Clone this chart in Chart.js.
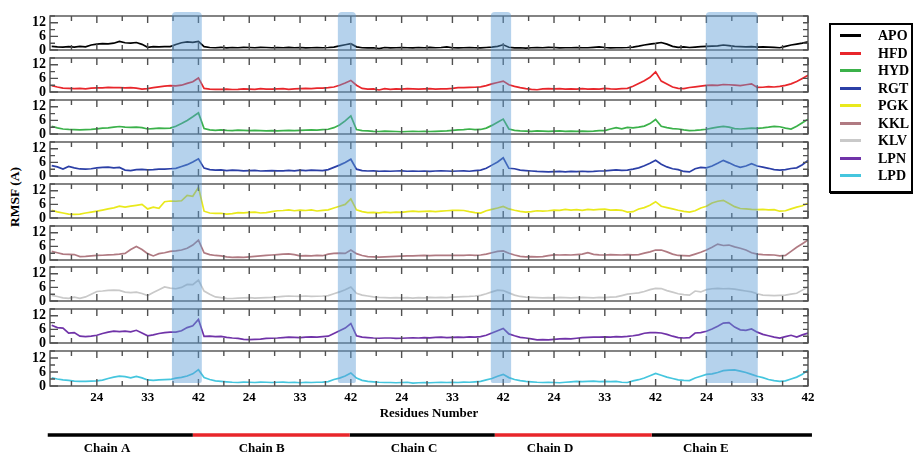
<!DOCTYPE html>
<html>
<head>
<meta charset="utf-8">
<script src="https://cdn.jsdelivr.net/npm/chart.js@4.4.1/dist/chart.umd.min.js"></script>
<style>
  body { margin: 0; background: #fff; }
  #wrap { position: relative; width: 913px; height: 455px; overflow: hidden; font-family: 'Liberation Serif', 'DejaVu Serif', serif; }
  #wrap canvas { position: absolute; left: 0; }
  #overlay { pointer-events: none; z-index: 5; }
  #ylabel { position: absolute; left: 15px; top: 197px; transform: translate(-50%, -50%) rotate(-90deg); font-weight: bold; font-size: 13.5px; white-space: nowrap; }
  #legend { position: absolute; left: 829px; top: 23px; width: 80px; height: 166px; border: 2px solid #000; box-shadow: 1px 1px 0 #000; background: #fff; z-index: 6; }
  #legend .item { position: absolute; left: 0; height: 17px; width: 80px; }
  #legend .swatch { position: absolute; left: 9px; top: 7px; width: 21px; height: 3px; }
  #legend .name { position: absolute; left: 47px; top: 0; font-weight: bold; font-size: 14px; line-height: 17px; }
</style>
</head>
<body>
<div id="wrap">
  <div id="ylabel">RMSF (A)</div>
  <div id="legend"></div>
</div>
<script>
// residues 16..42 in each of the five chains, plotted end to end
const chains = ['Chain A', 'Chain B', 'Chain C', 'Chain D', 'Chain E'];
const firstResidue = 16;
const chainLength = 27;
const xTickResidues = [19.5, 24, 28.5, 33, 37.5, 42];
const xLabelResidues = [24, 33, 42];
const yTicks = [0, 3, 6, 9, 12, 15];
const yLabels = [0, 6, 12];

const seriesNames = ['APO', 'HFD', 'HYD', 'RGT', 'PGK', 'KKL', 'KLV', 'LPN', 'LPD'];
const seriesColors = ['#000000', '#e8262b', '#3bb14a', '#2b3fa6', '#e9e91c', '#b07a82', '#c9c9c9', '#7033a8', '#45c6de'];

// RMSF values, one line per chain (A..E)
const APO = [
  1.6,1.4,1.3,1.5,1.3,1.6,1.4,2.2,2.6,2.8,2.7,3.0,3.8,3.2,3.0,3.3,2.5,1.2,1.5,1.4,1.5,1.5,2.4,3.2,3.6,3.4,3.8,
  1.5,1.1,1.0,1.2,0.9,1.1,1.0,1.2,1.1,1.0,1.2,1.1,1.0,1.1,1.0,1.2,1.0,1.1,0.9,1.0,1.1,1.0,1.1,1.3,1.8,2.3,2.8,
  1.4,1.0,0.9,1.0,0.6,1.1,0.9,1.0,1.1,1.0,0.9,1.1,1.0,1.2,1.0,1.1,1.4,1.0,0.9,1.0,1.1,1.0,0.9,1.1,1.3,1.6,2.3,
  1.2,0.9,1.0,0.8,1.0,1.1,1.0,1.2,1.1,0.9,1.0,1.0,1.1,1.0,1.0,1.2,1.4,1.1,0.9,1.0,1.0,1.1,1.3,1.7,2.2,2.6,2.9,
  3.3,2.6,1.6,1.2,1.4,1.1,1.3,1.5,1.6,1.7,1.8,2.2,1.9,1.6,1.5,1.4,1.5,1.3,1.4,1.3,1.2,1.0,1.6,2.2,2.6,3.0,3.6
];
const HFD = [
  2.8,2.2,1.7,1.6,1.5,1.6,1.4,1.7,1.8,1.8,2.0,1.9,1.9,1.8,1.9,1.7,1.3,1.5,1.9,2.3,2.6,2.8,2.7,3.0,3.8,4.5,6.2,
  1.6,1.3,1.2,1.2,1.3,1.1,1.2,1.4,1.3,1.2,1.5,1.3,1.3,1.4,1.5,1.2,1.4,1.5,1.6,1.5,1.7,1.7,1.9,2.2,3.0,4.0,5.1,
  3.0,1.6,1.3,1.4,0.9,1.5,1.2,1.4,1.3,1.5,1.4,1.3,1.4,1.5,1.3,1.4,1.4,1.6,1.9,1.9,2.0,2.1,2.3,2.8,3.6,4.2,4.8,
  3.2,2.5,1.9,1.5,1.2,1.0,1.4,1.5,1.4,1.5,1.3,1.4,1.3,1.5,1.3,1.4,1.3,1.6,1.4,1.3,1.5,1.6,2.5,3.8,5.0,6.5,8.9,
  4.8,3.5,2.2,1.6,1.5,2.0,2.3,2.6,2.9,3.0,2.9,3.3,3.2,3.0,2.8,3.2,3.6,2.0,2.1,2.4,2.2,2.5,2.9,3.6,4.6,6.0,7.4
];
const HYD = [
  3.4,2.7,2.2,2.0,1.9,1.8,1.9,2.0,2.3,2.6,2.7,3.0,3.3,3.0,2.9,3.0,2.8,2.2,2.4,2.6,2.5,2.6,3.4,4.6,6.0,7.6,9.3,
  2.4,1.8,1.6,1.8,1.6,1.5,1.7,1.6,1.5,1.6,1.5,1.4,1.5,1.4,1.5,1.6,1.5,1.6,1.7,1.8,1.7,1.9,2.1,2.8,4.0,5.8,8.0,
  2.0,1.5,1.4,1.2,1.1,1.3,1.2,1.1,1.0,1.1,1.2,1.1,1.2,1.1,1.2,1.3,1.4,1.6,1.8,1.9,2.2,1.9,2.0,2.6,3.8,5.2,6.6,
  2.2,1.6,1.4,1.3,1.2,1.4,1.3,1.2,1.3,1.4,1.2,1.3,1.2,1.3,1.2,1.3,1.5,1.5,2.2,2.8,2.3,2.9,2.7,3.0,3.5,4.6,6.4,
  3.4,2.8,2.4,2.2,1.8,1.5,1.6,1.8,2.1,2.6,3.0,3.4,3.0,2.4,2.2,2.4,2.6,2.5,2.7,3.0,3.4,3.2,2.6,2.2,3.4,5.0,6.5
];
const RGT = [
  4.6,4.0,3.1,4.2,3.6,3.1,3.0,3.2,3.6,3.8,3.9,3.6,3.8,2.6,2.4,2.8,2.9,2.7,2.8,3.0,3.0,3.2,3.4,4.2,5.0,6.2,7.6,
  3.5,2.8,2.6,2.7,2.4,2.6,2.5,2.3,2.4,2.5,2.2,2.3,2.4,2.3,2.3,2.5,2.3,2.6,2.4,2.6,2.5,2.4,2.8,3.8,4.8,6.0,7.4,
  3.0,2.4,2.2,2.3,2.1,2.2,2.1,2.2,2.3,2.1,2.2,2.1,2.2,2.0,2.2,2.3,2.2,2.1,2.2,2.3,2.1,2.4,2.6,3.4,4.8,6.2,8.0,
  3.4,3.2,2.6,2.4,2.2,2.0,1.9,1.8,1.9,2.0,1.8,2.0,1.9,2.1,1.9,2.0,2.2,2.3,2.5,2.7,2.5,2.6,3.0,3.6,4.5,5.6,6.9,
  5.2,4.0,3.2,2.8,2.0,1.8,3.2,3.8,3.6,4.4,5.6,6.9,5.8,4.6,3.8,4.4,5.4,4.4,3.9,3.4,2.8,2.6,2.8,3.3,3.6,5.0,6.9
];
const PGK = [
  3.4,2.7,2.2,1.7,1.6,1.7,2.2,2.6,3.0,3.5,4.0,4.5,5.2,4.8,5.2,5.6,6.0,4.0,4.8,4.3,7.2,7.5,7.4,7.6,10.0,9.6,13.5,
  3.0,2.2,2.0,2.1,1.7,1.9,2.4,2.3,2.5,2.6,2.2,2.4,2.8,3.2,3.3,3.6,3.2,3.5,3.3,3.6,3.1,3.4,3.6,4.4,5.2,6.0,8.4,
  3.6,2.8,2.4,2.5,2.3,2.6,2.4,2.6,2.5,2.8,3.0,2.8,2.9,3.0,2.8,3.0,3.2,3.4,3.4,3.3,2.8,2.4,2.2,3.2,3.8,4.4,5.1,
  4.0,3.4,2.9,2.6,2.8,3.2,3.0,3.2,3.5,3.4,3.8,3.5,3.7,3.4,3.8,3.6,3.8,3.9,3.5,3.6,3.4,2.6,2.8,4.0,4.6,5.6,7.2,
  5.2,4.6,4.0,3.4,2.9,2.6,3.2,4.4,5.2,6.6,7.4,7.8,6.4,5.0,4.2,4.0,3.8,3.7,3.8,3.6,3.7,3.0,3.2,4.0,4.8,5.4,6.5
];
const KKL = [
  3.8,3.2,2.6,2.5,2.4,1.5,1.6,1.8,2.0,2.1,2.3,2.4,2.6,2.9,4.6,6.0,4.6,2.8,1.8,2.8,3.2,3.8,4.0,4.4,5.2,6.6,8.8,
  3.2,2.4,2.0,1.8,1.4,1.2,1.3,1.2,1.4,1.6,1.8,2.0,2.2,2.4,2.6,2.7,2.4,1.8,1.9,1.8,2.0,1.9,2.6,2.9,3.0,2.9,4.4,
  2.8,2.0,1.5,1.4,1.3,1.4,1.5,1.6,1.7,1.8,1.8,1.9,2.0,1.9,2.0,2.1,2.0,2.0,2.1,2.0,2.2,2.0,2.2,2.6,3.2,3.8,4.0,
  3.0,2.2,1.6,1.4,1.5,1.4,1.5,1.9,2.3,2.2,2.3,2.2,2.4,2.6,3.2,2.5,2.3,2.2,2.4,2.3,2.2,2.4,2.3,2.4,3.0,3.6,4.4,
  4.4,3.6,2.6,2.0,1.9,1.8,2.6,3.4,4.4,5.6,7.0,6.4,6.6,5.8,5.2,4.4,3.2,2.6,2.4,2.3,2.2,1.8,2.0,3.8,5.6,7.2,8.8
];
const KLV = [
  2.5,2.0,1.4,1.2,1.7,1.2,1.8,3.0,4.2,4.4,4.7,4.8,4.7,3.9,3.7,3.9,3.3,2.4,3.8,5.0,6.2,5.7,5.4,6.0,7.3,7.2,9.2,
  4.4,3.0,1.8,1.5,1.2,1.1,1.3,1.4,1.5,1.3,1.4,1.5,1.6,1.8,2.0,2.2,2.1,2.0,2.2,2.0,2.1,2.2,2.4,3.2,4.0,5.0,6.2,
  3.4,2.6,2.2,1.8,1.6,1.5,1.4,1.5,1.4,1.5,1.3,1.5,1.4,1.6,1.5,1.6,1.5,1.7,1.8,1.9,2.0,2.2,2.5,3.2,4.0,4.8,4.6,
  3.6,2.6,2.0,1.7,1.6,1.5,1.4,1.5,1.4,1.6,1.5,1.4,1.5,1.6,1.5,1.4,1.6,1.5,1.7,1.8,2.4,3.0,3.3,3.6,4.2,5.0,5.6,
  5.5,4.6,3.9,3.2,2.8,2.6,4.4,4.0,5.0,5.4,5.6,5.4,5.5,5.2,4.8,4.4,4.0,3.2,2.6,2.5,2.4,2.5,2.6,3.0,3.4,4.8,6.2
];
const LPN = [
  7.8,6.8,6.6,4.4,4.6,3.0,2.8,3.0,3.4,4.2,4.8,5.2,5.0,5.2,4.9,5.6,4.4,3.2,3.6,4.2,4.6,4.8,4.8,5.4,6.8,7.6,10.4,
  2.9,3.0,2.8,2.9,2.5,2.2,2.0,1.6,1.5,1.6,1.7,2.0,2.1,2.2,2.4,2.6,2.5,2.4,2.6,2.7,2.6,2.8,3.0,4.2,5.4,6.6,8.6,
  3.2,2.6,2.4,2.2,2.1,2.2,2.2,2.0,2.1,2.2,2.3,2.2,2.4,2.3,2.5,2.6,2.4,2.5,2.6,2.5,2.7,2.6,2.8,3.4,4.4,5.4,6.4,
  4.0,3.2,2.5,2.2,1.8,1.4,1.5,1.4,1.6,1.8,1.9,1.8,2.1,2.4,2.5,2.6,2.6,2.7,2.6,2.8,2.7,2.9,3.2,3.6,4.3,4.6,4.6,
  4.4,3.8,3.0,2.4,2.2,2.4,4.4,4.6,5.2,6.2,7.4,8.8,9.0,7.0,5.8,5.6,6.2,4.8,3.8,3.2,2.6,2.2,2.8,3.4,2.6,3.6,4.4
];
const LPD = [
  3.5,3.0,2.6,2.4,2.1,2.0,2.0,2.1,2.2,2.5,3.2,3.8,4.2,4.0,3.5,4.1,3.5,2.6,2.4,2.6,2.7,2.8,3.4,3.7,4.3,5.2,7.0,
  3.6,2.8,2.2,2.0,1.8,1.6,1.5,1.7,1.6,1.5,1.7,1.6,1.5,1.6,1.7,1.5,1.6,1.4,1.6,1.5,1.6,1.7,1.9,2.8,3.4,4.3,5.6,
  3.4,2.4,2.0,1.8,1.6,1.5,1.5,1.4,1.5,1.6,1.2,1.4,1.5,1.4,1.5,1.6,1.5,1.6,1.5,1.7,1.6,1.8,2.0,2.6,3.2,4.2,5.0,
  3.6,2.8,2.3,2.0,1.8,1.6,1.5,1.6,1.5,1.4,1.6,1.8,2.0,1.9,2.0,2.1,1.9,2.0,1.9,2.0,1.6,1.5,2.2,2.7,3.4,4.4,5.4,
  4.6,3.8,3.2,2.6,2.4,2.3,3.4,4.2,5.0,5.2,5.8,6.6,6.8,6.9,6.4,5.8,5.0,4.2,3.6,2.8,2.3,2.0,2.2,3.0,3.8,5.0,6.9
];
const seriesValues = [APO, HFD, HYD, RGT, PGK, KKL, KLV, LPN, LPD];

// highlighted residue ranges: [chain, from residue, to residue]
const highlights = [['Chain A', 37.3, 42.6], ['Chain B', 39.7, 42.9], ['Chain C', 39.8, 43.4], ['Chain E', 23.9, 33.1]];
// chain bar extents and label centres, in plot position units
const chainBars = [[-0.7, 25.0], [25.0, 52.8], [52.8, 78.5], [78.5, 106.3], [106.3, 134.7]];
const chainLabelAt = [9.8, 37.2, 64.2, 88.3, 115.9];

const X_MIN = -0.3, X_MAX = 134;
const PANEL_TOP = 16, PANEL_STEP = 41.9, PANEL_H = 34;
const FONT = "'Liberation Serif', 'DejaVu Serif', serif";
Chart.defaults.font.family = FONT;
Chart.defaults.font.weight = 'bold';
Chart.defaults.color = '#000';

const pos = (chain, residue) => chains.indexOf(chain) * chainLength + residue - firstResidue;
const residueAt = v => Math.round(v - chainLength * Math.floor(v / chainLength) + firstResidue);

const xTickPos = [];
chains.forEach(c => xTickResidues.forEach(r => xTickPos.push(pos(c, r))));
const xLabelPos = [];
chains.forEach(c => xLabelResidues.forEach(r => xLabelPos.push(pos(c, r))));

const wrap = document.getElementById('wrap');

// frame and inward tick marks for each panel
const frame = {
  id: 'frame',
  afterDatasetsDraw(chart) {
    const { ctx, chartArea: a, scales: { x, y } } = chart;
    ctx.save();
    ctx.strokeStyle = '#505050';
    ctx.lineWidth = 1.4;
    ctx.strokeRect(a.left, a.top, a.right - a.left, a.bottom - a.top);
    ctx.beginPath();
    xTickPos.forEach(v => {
      const px = x.getPixelForValue(v);
      const len = xLabelPos.includes(v) ? 7 : 5;
      ctx.moveTo(px, a.top); ctx.lineTo(px, a.top + len);
      ctx.moveTo(px, a.bottom); ctx.lineTo(px, a.bottom - len);
    });
    yTicks.forEach(v => {
      const py = y.getPixelForValue(v);
      const len = yLabels.includes(v) ? 8 : 5;
      ctx.moveTo(a.left, py); ctx.lineTo(a.left + len, py);
      ctx.moveTo(a.right, py); ctx.lineTo(a.right - 5, py);
    });
    ctx.stroke();
    ctx.restore();
  }
};

seriesNames.forEach((name, k) => {
  const last = k === seriesNames.length - 1;
  const top = PANEL_TOP + k * PANEL_STEP;
  const cv = document.createElement('canvas');
  cv.width = 913;
  cv.height = last ? 82 : PANEL_H + 20;
  cv.style.top = (top - 10) + 'px';
  wrap.appendChild(cv);
  new Chart(cv, {
    type: 'line',
    data: {
      datasets: [{
        label: name,
        data: seriesValues[k].map((v, i) => ({ x: i, y: v })),
        borderColor: seriesColors[k],
        borderWidth: 1.7,
        pointRadius: 0,
        tension: 0
      }]
    },
    options: {
      responsive: false,
      animation: false,
      events: [],
      layout: { padding: { left: 0, right: 105, top: 10, bottom: last ? 2 : 10 } },
      plugins: { legend: { display: false }, tooltip: { enabled: false } },
      scales: {
        x: {
          type: 'linear', min: X_MIN, max: X_MAX, display: last,
          afterBuildTicks: s => { s.ticks = xLabelPos.map(v => ({ value: v })); },
          afterFit: s => { s.paddingLeft = 0; s.paddingRight = 0; },
          ticks: { callback: v => String(residueAt(v)), padding: 4, maxRotation: 0, autoSkip: false, font: { size: 13 } },
          grid: { display: false, drawTicks: false },
          border: { display: false },
          title: { display: true, text: 'Residues Number', padding: { top: 8, bottom: 0 }, font: { size: 13 } }
        },
        y: {
          min: 0, max: 15,
          afterBuildTicks: s => { s.ticks = yLabels.map(v => ({ value: v })); },
          afterFit: s => { s.width = 50; s.paddingTop = 0; s.paddingBottom = 0; },
          ticks: { padding: 4, autoSkip: false, font: { size: 14 } },
          grid: { display: false, drawTicks: false },
          border: { display: false }
        }
      }
    },
    plugins: [frame]
  });
});

// overlay: highlighted bands, chain bars and chain names
const BAND_TOP = 12, BAND_BOTTOM = 383, BAR_Y = 435, LABEL_Y = 449;
const bands = {
  id: 'bands',
  beforeDatasetsDraw(chart) {
    const { ctx, scales: { x, y } } = chart;
    ctx.save();
    ctx.fillStyle = 'rgba(91,155,213,0.45)';
    highlights.forEach(([c, r0, r1]) => {
      const x0 = x.getPixelForValue(pos(c, r0)), x1 = x.getPixelForValue(pos(c, r1));
      const y0 = y.getPixelForValue(BAND_TOP), y1 = y.getPixelForValue(BAND_BOTTOM);
      ctx.beginPath();
      ctx.roundRect(x0, y0, x1 - x0, y1 - y0, [4, 4, 2, 2]);
      ctx.fill();
    });
    ctx.restore();
  },
  afterDatasetsDraw(chart) {
    const { ctx, scales: { x, y } } = chart;
    ctx.save();
    ctx.font = 'bold 13px ' + FONT;
    ctx.fillStyle = '#000';
    ctx.textAlign = 'center';
    ctx.textBaseline = 'middle';
    chains.forEach((c, i) => ctx.fillText(c, x.getPixelForValue(chainLabelAt[i]), y.getPixelForValue(LABEL_Y)));
    ctx.restore();
  }
};

const ov = document.createElement('canvas');
ov.id = 'overlay';
ov.width = 913; ov.height = 455; ov.style.top = '0px';
wrap.appendChild(ov);
new Chart(ov, {
  type: 'line',
  data: {
    datasets: chainBars.map((b, i) => ({
      label: chains[i],
      data: [{ x: b[0], y: BAR_Y }, { x: b[1], y: BAR_Y }],
      borderColor: i % 2 ? '#e8262b' : '#000',
      borderWidth: 3.5,
      borderCapStyle: 'butt',
      pointRadius: 0,
      clip: false
    }))
  },
  options: {
    responsive: false,
    animation: false,
    events: [],
    layout: { padding: { left: 50, right: 105, top: 0, bottom: 0 } },
    plugins: { legend: { display: false }, tooltip: { enabled: false } },
    scales: {
      x: { type: 'linear', min: X_MIN, max: X_MAX, display: false },
      y: { min: 0, max: 455, reverse: true, display: false }
    }
  },
  plugins: [bands]
});

// legend
const legend = document.getElementById('legend');
seriesNames.forEach((name, k) => {
  const item = document.createElement('div');
  item.className = 'item';
  item.style.top = (2 + k * 17.5) + 'px';
  item.innerHTML = '<div class="swatch" style="background:' + seriesColors[k] + '"></div><div class="name">' + name + '</div>';
  legend.appendChild(item);
});
</script>
</body>
</html>
